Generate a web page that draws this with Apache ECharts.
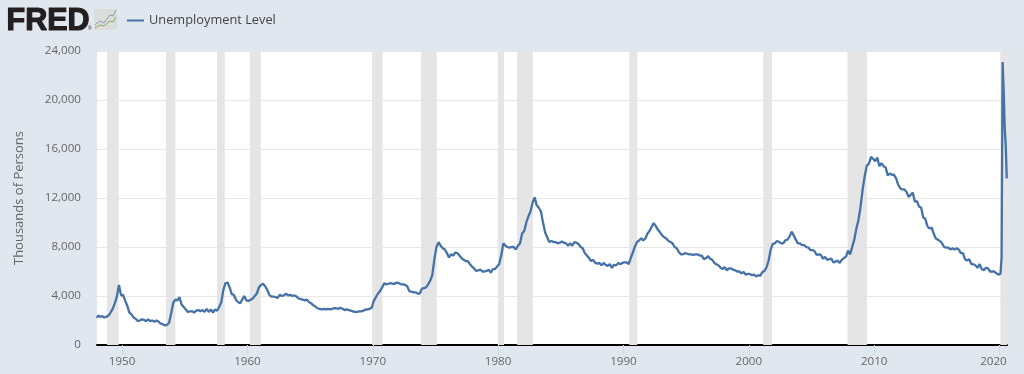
<!DOCTYPE html>
<html>
<head>
<meta charset="utf-8">
<title>Unemployment Level</title>
<style>
html,body{margin:0;padding:0;background:#e1e7ef;}
#chart{width:1024px;height:374px;}
</style>
<script src="https://cdn.jsdelivr.net/npm/echarts@6/dist/echarts.min.js"></script>
</head>
<body>
<div id="chart"></div>
<script>
var seriesName = 'Unemployment Level';
var yAxisName = 'Thousands of Persons';
var yTicks = [0, 4000, 8000, 12000, 16000, 20000, 24000];
var xTicks = [1950, 1960, 1970, 1980, 1990, 2000, 2010, 2020];

// one row per year: Feb, Apr, Jun, Aug, Oct, Dec (thousands of persons)
var values1948to1959 = [
	2400, 2300, 2350, 2250, 2300, 2400,
	2650, 2950, 3400, 3950, 4900, 4050,
	4100, 3600, 3200, 2650, 2500, 2250,
	2150, 1950, 2000, 2100, 2050, 1950,
	2100, 1950, 2000, 1900, 2000, 1900,
	1750, 1700, 1600, 1650, 1800, 2600,
	3450, 3700, 3650, 3900, 3300, 3100,
	2900, 2700, 2750, 2750, 2650, 2800,
	2850, 2750, 2850, 2700, 2950, 2700,
	2900, 2650, 2900, 2800, 3100, 3500,
	4500, 5050, 5100, 4700, 4150, 4100,
	3700, 3500, 3400, 3700, 4000, 3650
];
var values1960to1969 = [
	3600, 3700, 3800, 4000, 4200, 4700,
	4900, 5000, 4800, 4500, 4100, 3950,
	3950, 3900, 3850, 4100, 4000, 4050,
	4200, 4050, 4100, 4000, 4050, 3950,
	3800, 3750, 3700, 3650, 3700, 3500,
	3400, 3250, 3150, 3000, 2950, 2900,
	2950, 2900, 2950, 2900, 2950, 3000,
	3000, 2950, 3050, 2950, 2850, 2900,
	2850, 2800, 2750, 2700, 2700, 2750,
	2750, 2800, 2900, 2900, 2950, 3050
];
var values1970to1979 = [
	3600, 3900, 4200, 4400, 4700, 5050,
	4950, 5000, 5050, 5000, 5000, 5100,
	5050, 4950, 4950, 4900, 4800, 4400,
	4350, 4300, 4300, 4200, 4200, 4600,
	4650, 4700, 4950, 5250, 5700, 7000,
	8000, 8400, 8100, 7900, 7800, 7500,
	7150, 7400, 7300, 7550, 7500, 7300,
	7100, 6950, 6850, 6850, 6600, 6400,
	6250, 6050, 6100, 6150, 6000, 6000,
	6050, 6150, 5900, 6200, 6200, 6400
];
var values1980to1989 = [
	6600, 7300, 8300, 8100, 8000, 7950,
	8000, 8000, 7800, 8100, 8300, 9100,
	9300, 10000, 10500, 10900, 11600, 12050,
	11400, 11200, 10900, 10000, 9200, 8800,
	8400, 8500, 8400, 8400, 8300, 8350,
	8450, 8350, 8300, 8100, 8300, 8100,
	8400, 8350, 8250, 8000, 7900, 7500,
	7300, 7100, 6850, 6950, 6700, 6650,
	6700, 6500, 6700, 6550, 6450, 6600,
	6300, 6550, 6500, 6700, 6600, 6700
];
var values1990to1999 = [
	6750, 6750, 6600, 7100, 7550, 8050,
	8400, 8550, 8700, 8550, 8700, 9100,
	9300, 9650, 9950, 9700, 9400, 9200,
	8950, 8800, 8700, 8500, 8400, 8300,
	8000, 7900, 7600, 7400, 7400, 7500,
	7450, 7400, 7400, 7350, 7400, 7400,
	7300, 7300, 7000, 7100, 7250, 7050,
	6950, 6700, 6600, 6500, 6300, 6200,
	6350, 6100, 6250, 6250, 6150, 6100,
	6000, 6000, 5850, 5950, 5750, 5800
];
var values2000to2009 = [
	5800, 5700, 5750, 5600, 5700, 5650,
	5950, 6050, 6350, 6900, 7800, 8250,
	8300, 8500, 8400, 8300, 8300, 8550,
	8600, 8850, 9250, 8950, 8600, 8300,
	8300, 8150, 8150, 8000, 7950, 7750,
	7750, 7650, 7350, 7400, 7350, 7050,
	7200, 6950, 7000, 7050, 6750, 6800,
	6900, 6700, 6950, 7100, 7200, 7700,
	7400, 8000, 8600, 9500, 10200, 11300,
	12700, 13800, 14650, 14800, 15350, 15200
];
var values2010to2019 = [
	15000, 15300, 14600, 14850, 14600, 14500,
	13850, 14000, 13900, 13900, 13600, 13100,
	12800, 12700, 12700, 12500, 12100, 12250,
	12450, 11700, 11750, 11300, 11200, 10400,
	10300, 9700, 9500, 9600, 9100, 8700,
	8600, 8500, 8300, 8000, 7950, 7950,
	7800, 7900, 7800, 7900, 7800, 7500,
	7500, 7000, 6900, 7000, 6600, 6600,
	6500, 6300, 6600, 6200, 6100, 6300,
	6250, 6000, 6000, 6000, 5850, 5750
];
var firstValue = 2200;
var lastYears = [2020.0, 2020.08, 2020.17, 2020.25, 2020.33, 2020.42, 2020.5, 2020.58];
var lastValues = [5900, 5800, 7150, 23100, 20900, 17700, 16300, 13600];

var recessionStart = [1948.8, 1953.5, 1957.58, 1960.2, 1969.95, 1973.86, 1979.98, 1981.52, 1990.46, 2001.15, 2007.88, 2020.07];
var recessionEnd = [1949.73, 1954.25, 1958.19, 1961.07, 1970.77, 1975.11, 1980.48, 1982.77, 1991.1, 2001.84, 2009.42, 2020.6];

var bimonthly = [].concat(values1948to1959, values1960to1969, values1970to1979, values1980to1989, values1990to1999, values2000to2009, values2010to2019);
var lineData = [[1948, firstValue]];
for (var i = 0; i < bimonthly.length; i++) {
	lineData.push([1948 + (i + 0.5) / 6, bimonthly[i]]);
}
for (var j = 0; j < lastYears.length; j++) {
	lineData.push([lastYears[j], lastValues[j]]);
}
var bands = [];
for (var k = 0; k < recessionStart.length; k++) {
	bands.push([{xAxis: recessionStart[k]}, {xAxis: recessionEnd[k]}]);
}

var labelFont = '"Open Sans", "Noto Sans", sans-serif';
var chart = echarts.init(document.getElementById('chart'), null, {renderer: 'canvas'});
chart.setOption({
	animation: false,
	backgroundColor: '#e1e7ef',
	color: ['#4572a7'],
	grid: {left: 97, right: 17, top: 51, bottom: 29, backgroundColor: '#ffffff', show: true, borderWidth: 0},
	legend: {
		left: 122, top: 9,
		icon: 'rect', itemWidth: 17, itemHeight: 2, itemGap: 5,
		data: [seriesName],
		textStyle: {color: '#444444', fontFamily: labelFont, fontSize: 12.8}
	},
	xAxis: {
		type: 'value', min: 1948, max: 2020.6,
		axisLine: {show: true, onZero: false, lineStyle: {color: '#000000', width: 2}},
		axisTick: {show: true, length: 10, customValues: xTicks, lineStyle: {color: '#ccd6eb', width: 1}},
		axisLabel: {
			color: '#666666', fontFamily: labelFont, fontSize: 11.6, margin: 11,
			customValues: xTicks, showMinLabel: true, showMaxLabel: true,
			formatter: function (v) {
				// last label is pushed left so it stays inside the plot, same as the original
				return v === 2020 ? '{last|' + v + '}' : String(v);
			},
			rich: {last: {color: '#666666', fontFamily: labelFont, fontSize: 11.6, padding: [0, 12, 0, 0]}}
		},
		splitLine: {show: false}
	},
	yAxis: {
		type: 'value', min: 0, max: 24000, interval: 4000,
		name: yAxisName, nameLocation: 'middle', nameGap: 71, nameRotate: 90,
		nameTextStyle: {color: '#666666', fontFamily: labelFont, fontSize: 13},
		axisLine: {show: false},
		axisTick: {show: false},
		axisLabel: {
			color: '#666666', fontFamily: labelFont, fontSize: 11.6, margin: 16,
			formatter: function (v) { return v.toLocaleString('en-US'); }
		},
		splitLine: {show: true, lineStyle: {color: '#e6e6e6', width: 1}}
	},
	series: [{
		name: seriesName,
		type: 'line',
		data: lineData,
		showSymbol: false,
		smooth: false,
		lineStyle: {color: '#4572a7', width: 2.3},
		itemStyle: {color: '#4572a7'},
		markArea: {silent: true, itemStyle: {color: '#e5e5e5'}, data: bands}
	}],
	graphic: [
		{type: 'text', left: 6, top: 5, style: {text: 'FRED', fill: '#231f20', stroke: '#231f20', lineWidth: 1.2, font: '900 30.5px "Liberation Sans", Arial, sans-serif'}},
		{type: 'text', left: 88, top: 26, style: {text: '®', fill: '#231f20', font: '5px "Liberation Sans", sans-serif'}},
		{type: 'rect', left: 94, top: 9, shape: {width: 23, height: 21, r: 2}, style: {fill: '#dcdcd8'}},
		{type: 'polyline', shape: {points: [[95, 25], [100, 21], [104, 23], [110, 15], [113, 16], [116, 10]]}, style: {stroke: '#7f9cc0', lineWidth: 1, fill: 'none'}},
		{type: 'polyline', shape: {points: [[95, 28], [100, 25], [104, 26], [110, 21], [113, 22], [116, 17]]}, style: {stroke: '#8fa85a', lineWidth: 1, fill: 'none'}}
	]
});
</script>
</body>
</html>
